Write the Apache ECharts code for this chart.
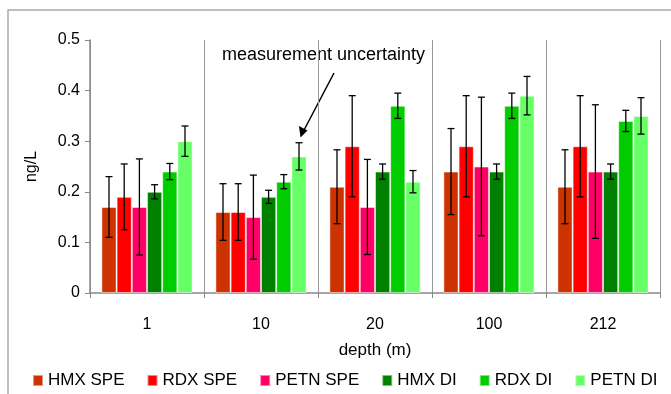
<!DOCTYPE html>
<html>
<head>
<meta charset="utf-8">
<script src="https://cdn.jsdelivr.net/npm/echarts@6/dist/echarts.min.js"></script>
<style>
  html, body { margin: 0; padding: 0; background: #fff; }
  #chart { width: 671px; height: 394px; }
</style>
</head>
<body>
<div id="chart"></div>
<script>
// depth categories (m)
var depths = ["1", "10", "20", "100", "212"];
var seriesNames = ["HMX SPE", "RDX SPE", "PETN SPE", "HMX DI", "RDX DI", "PETN DI"];
var seriesColors = ["#CC3300", "#FF0000", "#FF0066", "#008000", "#00CC00", "#66FF66"];

// mean concentrations (ng/L)
var hmxSpe  = [0.17, 0.16, 0.21, 0.24, 0.21];
var rdxSpe  = [0.19, 0.16, 0.29, 0.29, 0.29];
var petnSpe = [0.17, 0.15, 0.17, 0.25, 0.24];
var hmxDi   = [0.20, 0.19, 0.24, 0.24, 0.24];
var rdxDi   = [0.24, 0.22, 0.37, 0.37, 0.34];
var petnDi  = [0.30, 0.27, 0.22, 0.39, 0.35];

// measurement uncertainty (+/- ng/L)
var hmxSpeErr  = [0.060, 0.056, 0.073, 0.085, 0.073];
var rdxSpeErr  = [0.065, 0.056, 0.100, 0.100, 0.100];
var petnSpeErr = [0.095, 0.083, 0.094, 0.137, 0.132];
var hmxDiErr   = [0.014, 0.013, 0.015, 0.015, 0.015];
var rdxDiErr   = [0.016, 0.014, 0.025, 0.025, 0.021];
var petnDiErr  = [0.030, 0.027, 0.022, 0.038, 0.036];

var yTicks = [0, 0.1, 0.2, 0.3, 0.4, 0.5];

var means = [hmxSpe, rdxSpe, petnSpe, hmxDi, rdxDi, petnDi];
var errs = [hmxSpeErr, rdxSpeErr, petnSpeErr, hmxDiErr, rdxDiErr, petnDiErr];

var GAP = 0.2; // barCategoryGap
var N = seriesNames.length;

var myChart = echarts.init(document.getElementById("chart"));

function errSeries(k) {
  var data = [];
  for (var i = 0; i < depths.length; i++) {
    data.push([i, means[k][i] - errs[k][i], means[k][i] + errs[k][i]]);
  }
  return {
    type: "custom",
    name: seriesNames[k] + " err",
    data: data,
    z: 5,
    silent: true,
    renderItem: function (params, api) {
      var band = api.size([1, 0])[0];
      var barW = band * (1 - GAP) / N;
      var lo = api.coord([api.value(0), api.value(1)]);
      var hi = api.coord([api.value(0), api.value(2)]);
      var x = lo[0] - band * (1 - GAP) / 2 + barW * (k + 0.5);
      var cap = 3.5;
      var st = { stroke: "#000", lineWidth: 1.3 };
      return {
        type: "group",
        children: [
          { type: "line", shape: { x1: x, y1: lo[1], x2: x, y2: hi[1] }, style: st },
          { type: "line", shape: { x1: x - cap, y1: lo[1], x2: x + cap, y2: lo[1] }, style: st },
          { type: "line", shape: { x1: x - cap, y1: hi[1], x2: x + cap, y2: hi[1] }, style: st }
        ]
      };
    }
  };
}

var series = [];
for (var k = 0; k < N; k++) {
  series.push({
    name: seriesNames[k],
    type: "bar",
    data: means[k],
    barGap: "0%",
    barCategoryGap: GAP * 100 + "%",
    itemStyle: { color: seriesColors[k], borderColor: "rgba(255,255,255,0.5)", borderWidth: 1 }
  });
}
for (var k2 = 0; k2 < N; k2++) series.push(errSeries(k2));

var option = {
  animation: false,
  textStyle: { fontFamily: "Liberation Sans, Arial, sans-serif", color: "#000" },
  grid: { left: 90, right: 11, top: 40, bottom: 101 },
  legend: {
    data: seriesNames,
    left: 27,
    top: 367,
    icon: "rect",
    itemWidth: 10,
    itemHeight: 11,
    itemGap: 22,
    textStyle: { fontSize: 17, color: "#000" }
  },
  xAxis: {
    type: "category",
    data: depths,
    name: "depth (m)",
    nameLocation: "middle",
    nameGap: 49,
    nameTextStyle: { fontSize: 17, color: "#000" },
    axisLine: { lineStyle: { color: "#888", width: 1.5 } },
    axisTick: { show: true, length: 5, lineStyle: { color: "#888" } },
    axisLabel: { fontSize: 16, color: "#000", margin: 24 },
    splitLine: { show: true, lineStyle: { color: "#999", width: 1 } }
  },
  yAxis: {
    type: "value",
    min: yTicks[0],
    max: yTicks[yTicks.length - 1],
    interval: 0.1,
    name: "ng/L",
    nameLocation: "middle",
    nameGap: 50,
    nameTextStyle: { fontSize: 16, color: "#000" },
    axisLine: { show: true, lineStyle: { color: "#888", width: 1.5 } },
    axisTick: { show: true, length: 5, lineStyle: { color: "#888" } },
    axisLabel: { fontSize: 16, color: "#000", margin: 10 },
    splitLine: { show: false }
  },
  graphic: [
    { type: "rect", shape: { x: 8, y: 10, width: 700, height: 420 }, style: { fill: "none", stroke: "#aaa", lineWidth: 1.5 }, z: -1 },
    { type: "text", left: 222, top: 46, style: { text: "measurement uncertainty", font: "18px Liberation Sans", fill: "#000" } },
    { type: "line", shape: { x1: 334, y1: 73, x2: 303, y2: 132 }, style: { stroke: "#000", lineWidth: 1.5 } },
    { type: "polygon", shape: { points: [[300.5, 137.5], [299, 126], [307.5, 130.5]] }, style: { fill: "#000" } }
  ],
  series: series
};

myChart.setOption(option);
window.addEventListener("resize", function () {
  myChart.resize();
});
</script>
</body>
</html>
